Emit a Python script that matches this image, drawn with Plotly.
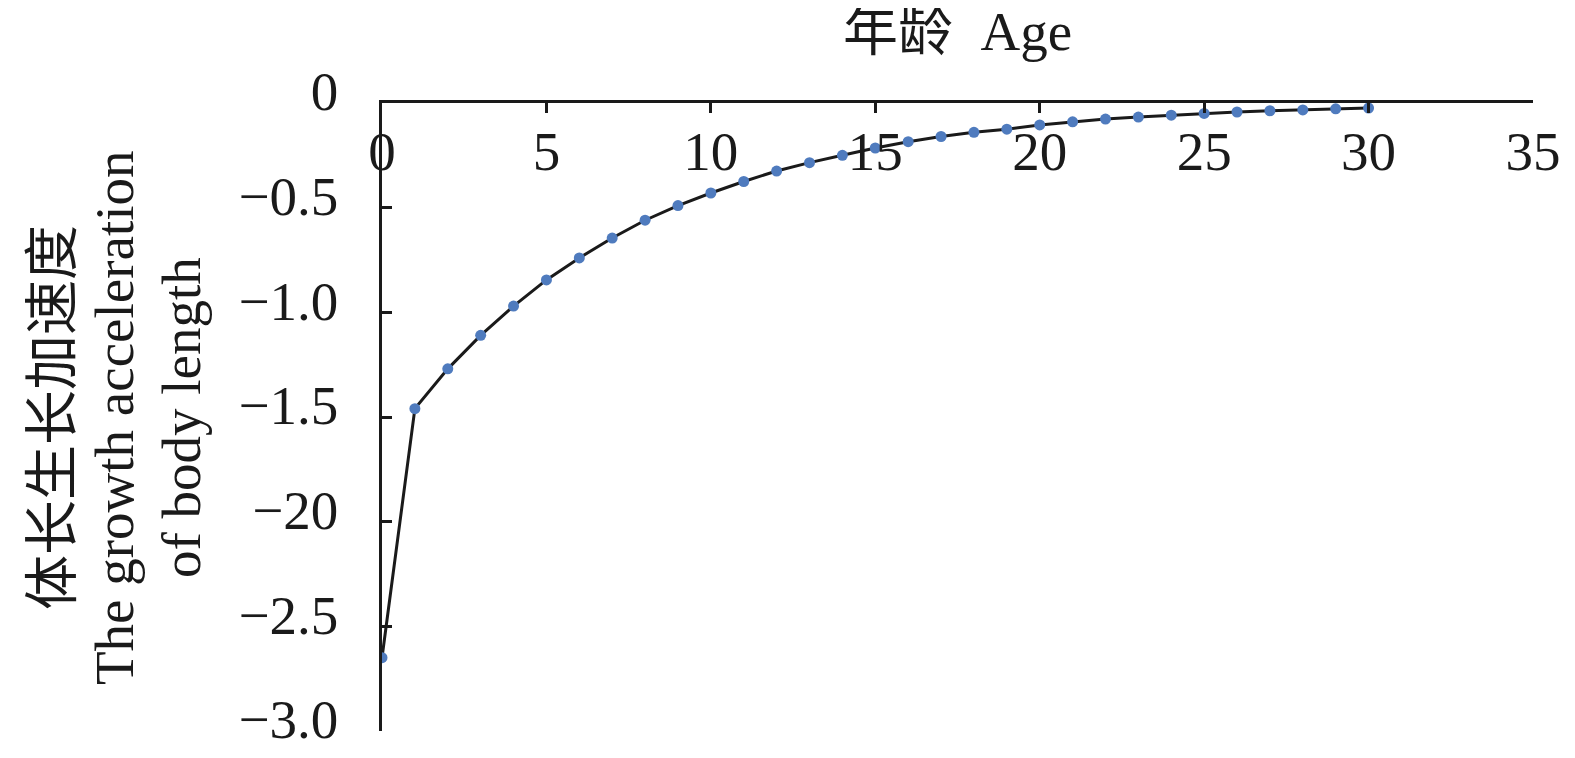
import plotly.graph_objects as go

ages = list(range(0, 31))
accel = [-2.65, -1.46, -1.27, -1.11, -0.97, -0.845, -0.74, -0.645, -0.56, -0.49,
         -0.43, -0.375, -0.325, -0.285, -0.25, -0.215, -0.185, -0.16, -0.14, -0.125,
         -0.105, -0.09, -0.077, -0.067, -0.058, -0.05, -0.043, -0.037, -0.033, -0.028,
         -0.024]

x_ticks = [0, 5, 10, 15, 20, 25, 30, 35]
y_tickvals = [0, -0.5, -1.0, -1.5, -2.0, -2.5, -3.0]
y_ticktext = ["0", "\u22120.5", "\u22121.0", "\u22121.5", "\u221220", "\u22122.5", "\u22123.0"]

x_title = "年龄\u00a0\u00a0Age"
y_title_lines = ["体长生长加速度", "The growth acceleration", "of body length"]

FONT = "Liberation Serif, Times New Roman, Noto Sans CJK SC, serif"
FS = 55
INK = "#1a1a1a"

fig = go.Figure()
fig.add_trace(go.Scatter(
    x=ages, y=accel, mode="lines+markers",
    line=dict(color=INK, width=3),
    marker=dict(color="#4F7BBE", size=11),
    showlegend=False,
))

W, H = 1575, 758
L, R, T, B = 374, 50, 95, 35
PW, PH = W - L - R, H - T - B

fig.update_layout(
    width=W, height=H,
    margin=dict(l=L, r=R, t=T, b=B),
    plot_bgcolor="white", paper_bgcolor="white",
    font=dict(family=FONT, size=FS, color=INK),
    xaxis=dict(
        side="top", range=[0, 35], tickvals=x_ticks, automargin=False,
        showline=True, linecolor=INK, linewidth=2.5,
        ticks="inside", ticklen=10, tickwidth=2.5, tickcolor=INK,
        ticklabelposition="inside", ticklabelstandoff=27,
        ticklabeloverflow="allow",
        showgrid=False, zeroline=False,
        tickfont=dict(family=FONT, size=FS, color=INK),
    ),
    yaxis=dict(
        range=[-3.0, 0], tickvals=y_tickvals, ticktext=y_ticktext, automargin=False,
        showline=True, linecolor=INK, linewidth=2.5,
        ticks="inside", ticklen=10, tickwidth=2.5, tickcolor=INK,
        ticklabelstandoff=30, ticklabelshift=-12,
        showgrid=False, zeroline=False,
        tickfont=dict(family=FONT, size=FS, color=INK),
    ),
)

fig.add_annotation(
    text=x_title, xref="paper", yref="paper", x=0.5, y=1,
    xanchor="center", yanchor="bottom", yshift=39, showarrow=False,
    font=dict(family=FONT, size=FS, color=INK),
)

line_centers_px = [44, 106, 173]
for txt, cx in zip(y_title_lines, line_centers_px):
    fig.add_annotation(
        text=txt, xref="paper", yref="paper",
        x=-(L - cx) / PW, y=(H - B - 410) / PH,
        xanchor="center", yanchor="middle", textangle=-90, showarrow=False,
        font=dict(family=FONT, size=FS, color=INK),
    )

fig.write_html("out.html")
